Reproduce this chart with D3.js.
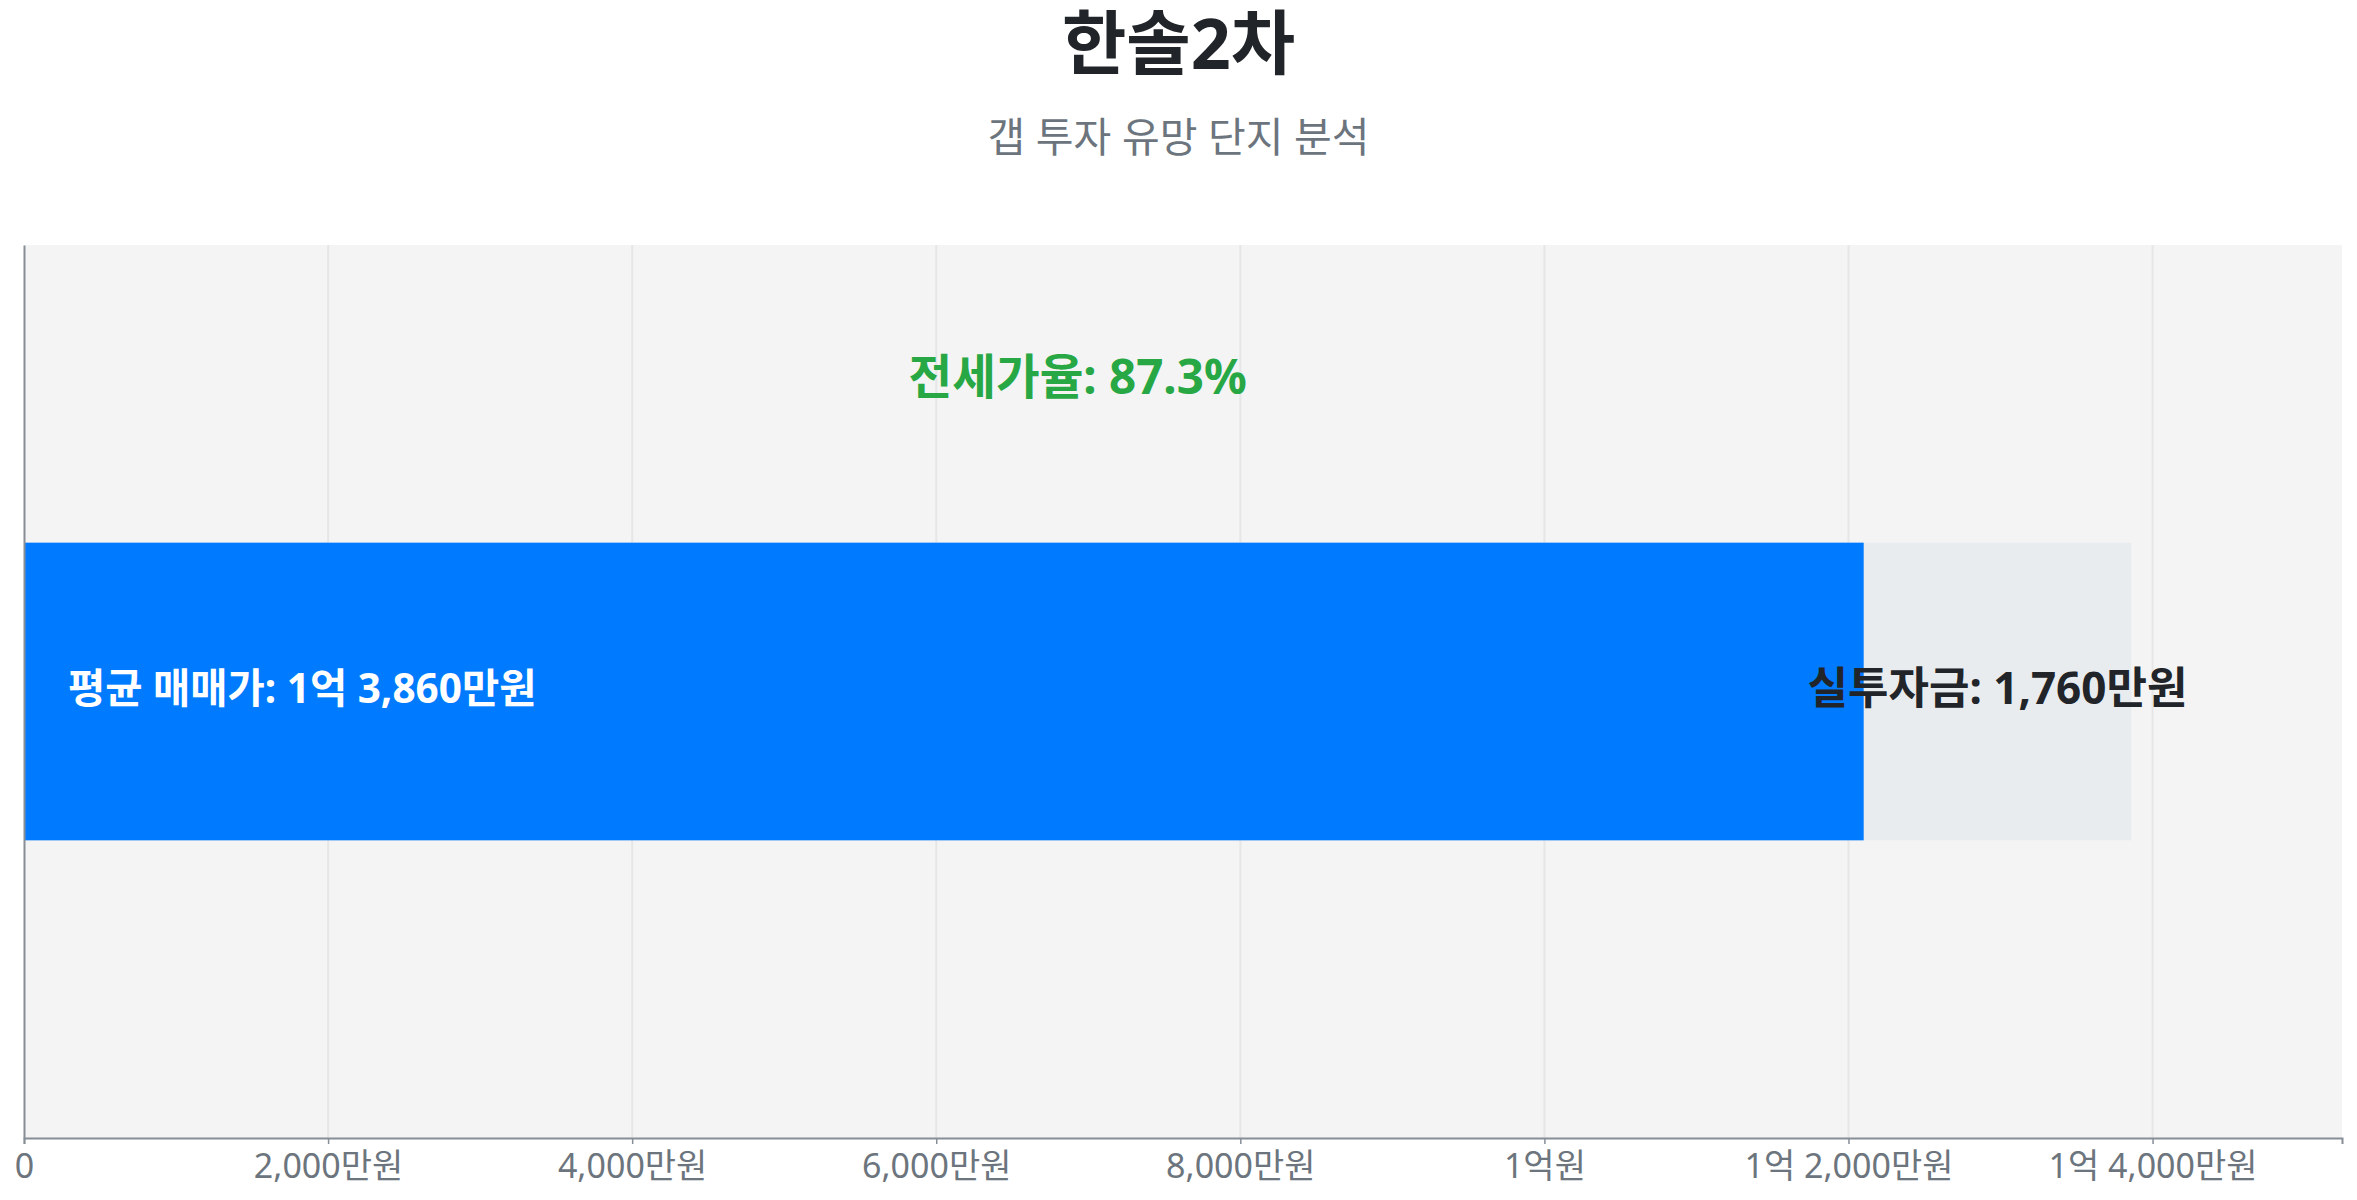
<!DOCTYPE html>
<html lang="ko">
<head>
<meta charset="utf-8">
<script src="https://cdn.jsdelivr.net/npm/d3@7"></script>
<style>
  html, body { margin: 0; padding: 0; background: #ffffff; }
  svg text { font-family: "Noto Sans", "Noto Sans CJK KR", sans-serif; }
</style>
</head>
<body>
<div id="chart"></div>
<script>
// data (단위: 만원)
const complexNames = ["한솔2차"];
const salePrices = [13860];     // 평균 매매가
const jeonsePrices = [12100];   // 평균 전세가
const gapAmounts = [1760];      // 실투자금
const jeonseRatios = [87.3];    // 전세가율 (%)
const tickValues = [0, 2000, 4000, 6000, 8000, 10000, 12000, 14000];
const titleText = "한솔2차";
const subtitleText = "갭 투자 유망 단지 분석";

function formatManwon(v) {
    if (v === 0) return "0";
    const eok = Math.floor(v / 10000);
    const man = v % 10000;
    if (eok === 0) return d3.format(",")(man) + "만원";
    if (man === 0) return eok + "억원";
    return eok + "억 " + d3.format(",")(man) + "만원";
}

// 1. Setup
const width = 2357;
const height = 1200;
const margin = { top: 245, right: 15, bottom: 62, left: 24 };

const svg = d3.select("#chart").append("svg")
    .attr("width", width).attr("height", height);

// 2. Title
svg.append("text")
    .attr("x", width / 2).attr("y", 69)
    .attr("text-anchor", "middle")
    .attr("font-size", 70).attr("font-weight", "bold")
    .attr("fill", "#212529")
    .text(titleText);
svg.append("text")
    .attr("x", width / 2).attr("y", 152)
    .attr("text-anchor", "middle")
    .attr("font-size", 41)
    .attr("fill", "#6c757d")
    .text(subtitleText);

// 3. Scales
const xScale = d3.scaleLinear()
    .domain([0, d3.max(salePrices) * 1.1])
    .range([margin.left, width - margin.right]);
const yScale = d3.scaleBand()
    .domain(complexNames)
    .range([margin.top, height - margin.bottom])
    .padding(0.5);

// 4. Plot background + grid
svg.append("rect")
    .attr("x", margin.left).attr("y", margin.top)
    .attr("width", width - margin.right - margin.left)
    .attr("height", height - margin.bottom - margin.top)
    .attr("fill", "#f4f4f4");
svg.append("g")
    .selectAll("line")
    .data(tickValues.slice(1))
    .join("line")
    .attr("x1", d => xScale(d)).attr("x2", d => xScale(d))
    .attr("y1", margin.top).attr("y2", height - margin.bottom)
    .attr("stroke", "#e6e6e6").attr("stroke-width", 2);

// 5. Bars
const bars = svg.append("g");
complexNames.forEach((name, i) => {
    const y = yScale(name);
    const bh = yScale.bandwidth();
    bars.append("rect")
        .attr("x", xScale(0)).attr("y", y)
        .attr("width", xScale(salePrices[i]) - xScale(0)).attr("height", bh)
        .attr("fill", "#e9ecef");
    bars.append("rect")
        .attr("x", xScale(0)).attr("y", y)
        .attr("width", xScale(jeonsePrices[i]) - xScale(0)).attr("height", bh)
        .attr("fill", "#007bff");

    // labels
    bars.append("text")
        .attr("x", xScale(0) + 44).attr("y", y + bh / 2)
        .attr("dominant-baseline", "middle")
        .attr("font-size", 40.5).attr("font-weight", "bold")
        .attr("fill", "#ffffff")
        .text("평균 매매가: " + formatManwon(salePrices[i]));
    bars.append("text")
        .attr("x", (xScale(jeonsePrices[i]) + xScale(salePrices[i])) / 2)
        .attr("y", y + bh / 2)
        .attr("text-anchor", "middle")
        .attr("dominant-baseline", "middle")
        .attr("font-size", 44).attr("font-weight", "bold")
        .attr("fill", "#212529")
        .text("실투자금: " + formatManwon(gapAmounts[i]));
    bars.append("text")
        .attr("x", (xScale(0) + xScale(salePrices[i])) / 2)
        .attr("y", y - bh / 2)
        .attr("text-anchor", "middle")
        .attr("font-size", 47.5).attr("font-weight", "bold")
        .attr("fill", "#28a745")
        .text("전세가율: " + jeonseRatios[i].toFixed(1) + "%");
});

// 6. Axes
const xAxis = svg.append("g")
    .attr("transform", `translate(0,${height - margin.bottom})`)
    .call(d3.axisBottom(xScale).tickValues(tickValues).tickFormat(formatManwon).tickSizeOuter(0).tickSize(6));
xAxis.select(".domain").attr("stroke", "#868e96").attr("stroke-width", 2);
xAxis.selectAll(".tick line").attr("stroke", "#868e96").attr("stroke-width", 1.5);
xAxis.selectAll(".tick text")
    .attr("font-size", 34).attr("fill", "#6c757d")
    .attr("font-family", "\"Noto Sans\", \"Noto Sans CJK KR\", sans-serif")
    .attr("y", 40).attr("dy", 0);

const yAxis = svg.append("g")
    .attr("transform", `translate(${margin.left},0)`)
    .call(d3.axisLeft(yScale).tickSize(0).tickFormat(""));
yAxis.select(".domain").attr("stroke", "#868e96").attr("stroke-width", 2);
</script>
</body>
</html>
